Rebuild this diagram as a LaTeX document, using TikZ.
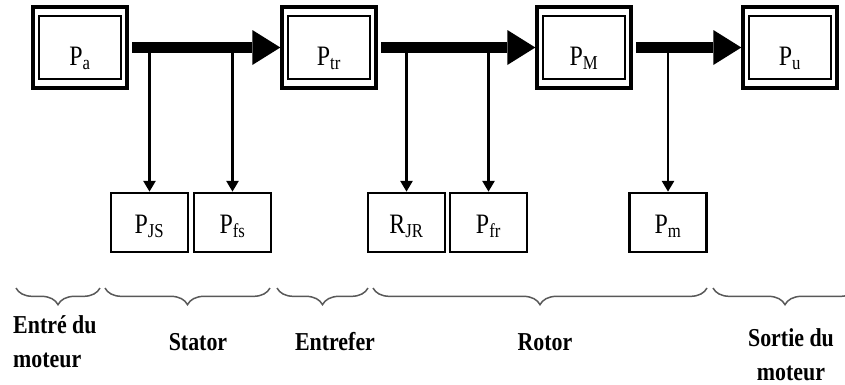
\documentclass[tikz,border=0pt]{standalone}
\usepackage{fontspec}
\setmainfont[FakeStretch=0.85]{Liberation Serif}
\usetikzlibrary{arrows.meta, positioning, decorations.pathreplacing}
\tikzstyle{stage} = [rectangle, draw=black, line width=1mm, minimum width=28.2mm, minimum height=24.3mm, inner sep=0pt, text height=10.5mm, text depth=0pt, font=\fontsize{24}{28}\selectfont]
\tikzstyle{stage_inner} = [draw=black, line width=0.65mm]
\tikzstyle{loss} = [rectangle, draw=black, line width=0.85mm, minimum width=23.1mm, minimum height=17.7mm, inner sep=0pt, text height=6.3mm, text depth=0pt, font=\fontsize{24}{28}\selectfont]
\tikzstyle{power_flow} = [line width=3.3mm, -{Triangle[width=10.5mm, length=8.4mm, line width=0pt]}]
\tikzstyle{loss_flow} = [line width=0.7mm, -{Triangle[width=3.8mm, length=3.2mm, line width=0pt]}]
\tikzstyle{part} = [draw=black!65, line width=0.45mm, decorate, decoration={brace, mirror, amplitude=5mm}]
\tikzstyle{part_label} = [inner sep=0pt, font=\bfseries\fontsize{22}{29}\selectfont]

\begin{document}
\begin{tikzpicture}[x=0.3mm, y=-0.3mm]

    \useasboundingbox (0, 0) rectangle (845, 385);

    % power stages
    \node (Pa) [stage] at (80, 47.5) {P\textsubscript{a}};
    \node (Ptr) [stage] at (329, 47.5) {P\textsubscript{tr}};
    \node (PM) [stage] at (584, 47.5) {P\textsubscript{M}};
    \node (Pu) [stage] at (790, 47.5) {P\textsubscript{u}};

    \foreach \n in {Pa, Ptr, PM, Pu}
        \draw [stage_inner] ([shift={(8, 10.5)}]\n.north west) rectangle ([shift={(-8, -10.5)}]\n.south east);

    % losses
    \node (PJS) [loss] at (149.5, 222.5) {P\textsubscript{JS}};
    \node (Pfs) [loss] at (232.5, 222.5) {P\textsubscript{fs}};
    \node (RJR) [loss] at (406.5, 222.5) {R\textsubscript{JR}};
    \node (Pfr) [loss] at (488.5, 222.5) {P\textsubscript{fr}};
    \node (Pm) [loss] at (668, 222.5) {P\textsubscript{m}};

    \draw [power_flow] ([xshift=3]Pa.east) -- (Ptr.west);
    \draw [power_flow] ([xshift=3]Ptr.east) -- (PM.west);
    \draw [power_flow] ([xshift=3]PM.east) -- (Pu.west);

    \draw [loss_flow] (PJS.north |- Pa.east) -- (PJS.north);
    \draw [loss_flow] (Pfs.north |- Pa.east) -- (Pfs.north);
    \draw [loss_flow] (RJR.north |- Ptr.east) -- (RJR.north);
    \draw [loss_flow] (Pfr.north |- Ptr.east) -- (Pfr.north);
    \draw [loss_flow] (Pm.north |- PM.east) -- (Pm.north);

    % motor parts
    \draw [part] (16, 288) -- (100, 288);
    \draw [part] (105, 288) -- (270, 288);
    \draw [part] (277, 288) -- (368, 288);
    \draw [part] (373, 288) -- (707, 288);
    \draw [part] (713, 288) -- (857, 288);

    \node (entry) [part_label, anchor=west, align=left] at (13, 342) {Entré du\\moteur};
    \node (stator) [part_label] at (198, 342) {Stator};
    \node (airgap) [part_label] at (335, 342) {Entrefer};
    \node (rotor) [part_label] at (545, 342) {Rotor};
    \node (exit) [part_label, align=center] at (791, 355) {Sortie du\\moteur};

\end{tikzpicture}
\end{document}
